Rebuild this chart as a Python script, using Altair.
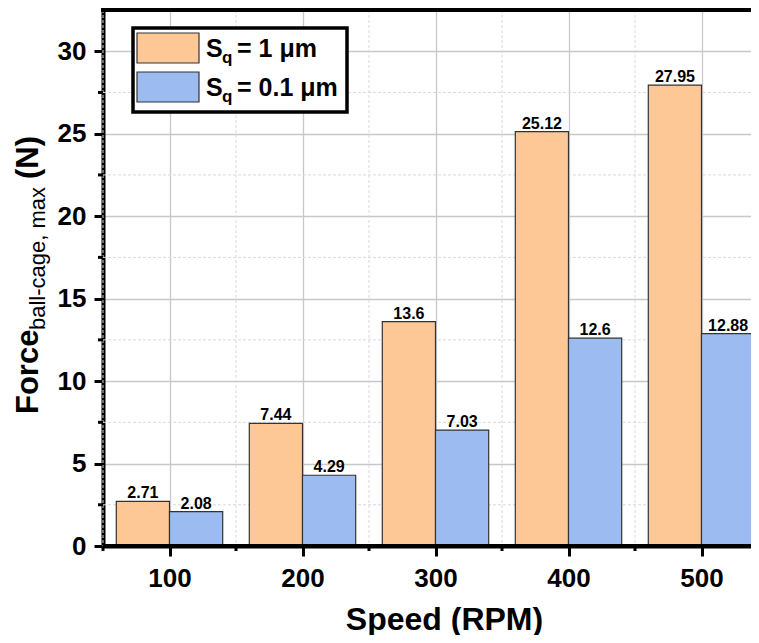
import altair as alt
import pandas as pd

# ---- data ----
speeds = [100, 200, 300, 400, 500]
sq_1um = [2.71, 7.44, 13.6, 25.12, 27.95]
sq_01um = [2.08, 4.29, 7.03, 12.6, 12.88]
series_names = ["Sq = 1 μm", "Sq = 0.1 μm"]
series_colors = ["#FDC896", "#9BBBF1"]
x_major = [100, 200, 300, 400, 500]
x_minor = [50, 150, 250, 350, 450]
y_major = [0, 5, 10, 15, 20, 25, 30]
y_minor = [2.5, 7.5, 12.5, 17.5, 22.5, 27.5]

rows = []
for s, a, b in zip(speeds, sq_1um, sq_01um):
    rows.append({"speed": s, "value": a, "series": series_names[0], "label": str(a)})
    rows.append({"speed": s, "value": b, "series": series_names[1], "label": str(b)})
df = pd.DataFrame(rows)

FONT = "Liberation Sans"
W, H = 648, 536
xs = alt.Scale(domain=[50, 50 + W / 1.33], nice=False, zero=False)
ys = alt.Scale(domain=[0, 32.5], nice=False, zero=False)

x_axis = alt.Axis(values=x_major, title="Speed (RPM)", grid=True, gridColor="#c8c8c8", gridWidth=1.3,
                  domain=True, domainColor="black", domainWidth=4, ticks=True, tickColor="black",
                  tickWidth=3, tickSize=10, labelFont=FONT, labelFontSize=26, labelFontWeight="bold",
                  labelColor="black", labelPadding=9, titleFont=FONT, titleFontSize=32,
                  titleFontWeight="bold", titleColor="black", titlePadding=13, titleX=341,
                  labelFlush=False, labelOverlap=False)
y_axis = alt.Axis(values=y_major, title=None, grid=True, gridColor="#c8c8c8", gridWidth=1.3,
                  domain=True, domainColor="black", domainWidth=4, ticks=True, tickColor="black",
                  tickWidth=3, tickSize=9, labelFont=FONT, labelFontSize=26, labelFontWeight="bold",
                  labelColor="black", labelPadding=8, labelFlush=False, labelOverlap=False)

is_big = "datum.series == '" + series_names[0] + "'"

minor_xgrid = alt.Chart(pd.DataFrame({"v": x_minor})).mark_rule(
    color="#d9d9d9", strokeWidth=1, strokeDash=[3, 2]).encode(
    x=alt.X("v:Q", scale=xs, axis=x_axis))
minor_ygrid = alt.Chart(pd.DataFrame({"v": y_minor})).mark_rule(
    color="#d9d9d9", strokeWidth=1, strokeDash=[3, 2]).encode(
    y=alt.Y("v:Q", scale=ys, axis=y_axis))

bars = alt.Chart(df).transform_calculate(
    x0=is_big + " ? datum.speed - 40 : datum.speed",
    x1="datum.x0 + 40",
).mark_bar(stroke="#333333", strokeWidth=1.2, clip=True).encode(
    x=alt.X("x0:Q", scale=xs, axis=x_axis),
    x2="x1:Q",
    y=alt.Y("value:Q", scale=ys, axis=y_axis),
    y2=alt.datum(0),
    color=alt.Color("series:N", scale=alt.Scale(domain=series_names, range=series_colors), legend=None),
)

zero_line = alt.Chart(pd.DataFrame({"z": [0]})).mark_rule(color="black", strokeWidth=4).encode(
    y=alt.Y("z:Q", scale=ys, axis=y_axis))

labels = alt.Chart(df).transform_calculate(
    xc=is_big + " ? datum.speed - 20 : datum.speed + 20"
).mark_text(font=FONT, fontSize=16, fontWeight="bold", baseline="alphabetic", dy=-3, color="black").encode(
    x=alt.X("xc:Q", scale=xs, axis=x_axis),
    y=alt.Y("value:Q", scale=ys, axis=y_axis),
    text="label:N",
)

minor_xticks = alt.Chart(pd.DataFrame({"v": x_minor})).mark_rule(color="black", strokeWidth=3).encode(
    x=alt.X("v:Q", scale=xs, axis=x_axis), y=alt.value(H), y2=alt.value(H + 5))
minor_yticks = alt.Chart(pd.DataFrame({"v": y_minor})).mark_rule(color="black", strokeWidth=3).encode(
    y=alt.Y("v:Q", scale=ys, axis=y_axis), x=alt.value(0), x2=alt.value(-5))


def one():
    return pd.DataFrame({"t": [""]})


def ptext(txt, x, y, size, weight="bold", angle=0):
    return alt.Chart(pd.DataFrame({"t": [txt]})).mark_text(
        align="left", baseline="alphabetic", font=FONT, fontSize=size, fontWeight=weight,
        angle=angle, color="black").encode(x=alt.value(x), y=alt.value(y), text="t:N")


def prect(x, x2, y, y2, fill, stroke, sw):
    return alt.Chart(one()).mark_rect(fill=fill, stroke=stroke, strokeWidth=sw).encode(
        x=alt.value(x), x2=alt.value(x2), y=alt.value(y), y2=alt.value(y2))


top_spine = alt.Chart(one()).mark_rule(color="black", strokeWidth=4).encode(
    x=alt.value(-2), x2=alt.value(W), y=alt.value(0))

legend = [
    prect(30, 244, 18, 102, "white", "black", 3.5),
    prect(34, 96, 23, 53, series_colors[0], "#333333", 1.2),
    prect(34, 96, 62, 92, series_colors[1], "#333333", 1.2),
    ptext("S", 103, 47, 25),
    ptext("q", 119, 53, 17),
    ptext("= 1 μm", 134, 47, 25),
    ptext("S", 103, 86, 25),
    ptext("q", 119, 92, 17),
    ptext("= 0.1 μm", 134, 86, 25),
]

ytitle = [
    ptext("Force", -65, 404, 31, "bold", 270),
    ptext("ball-cage, max", -58, 320, 22, "normal", 270),
    ptext("(N)", -65, 169, 31, "bold", 270),
]

chart = alt.layer(
    minor_xgrid, minor_ygrid, bars, zero_line, labels, minor_xticks, minor_yticks, top_spine,
    *legend, *ytitle
).properties(
    width=W, height=H,
    autosize=alt.AutoSizeParams(type="none"),
    padding={"left": 95, "top": 2, "right": 0, "bottom": 89},
    background="white",
).configure_view(stroke=None)

chart.save("out.html", embed_options={"renderer": "svg", "actions": False})
